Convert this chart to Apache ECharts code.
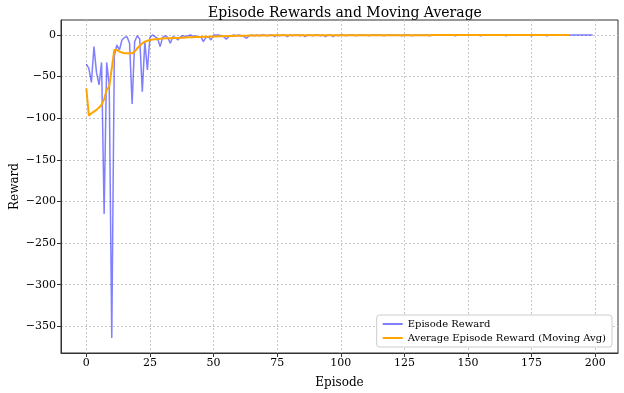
<!DOCTYPE html>
<html>
<head>
<meta charset="utf-8">
<script src="https://cdn.jsdelivr.net/npm/echarts@6/dist/echarts.min.js"></script>
<style>
html, body { margin: 0; padding: 0; background: #fff; }
#chart { width: 624px; height: 393px; }
</style>
</head>
<body>
<div id="chart"></div>
<script>
// episode rewards, one value per episode (0..199)
var episodeReward = [
  -35, -40, -57, -14, -45, -60, -33, -215, -33, -60,
  -364, -25, -12, -18, -6, -3, -2, -10, -83, -8,
  -1, -5, -68, -8, -42, -3, 0, -2, -4, -14,
  -3, -1, -3, -10, -2, -3, -6, -2, -1, -2,
  -1, 0, -2, -1, -3, -2, -8, -3, -2, -6,
  0, 0, 0, -1, -2, -5, -2, -1, 0, -1,
  0, -1, -2, -4, -1, 0, -1, 0, -1, 0,
  0, -1, 0, 0, -2, 0, -1, 0, 0, -2,
  0, -1, 0, 0, -1, 0, -2, 0, 0, -1,
  0, 0, -1, 0, -2, 0, 0, -2, 0, -1,
  0, 0, -1, 0, 0, 0, -1, 0, 0, 0,
  0, -1, 0, 0, 0, 0, 0, -1, 0, 0,
  0, 0, 0, 0, -1, 0, 0, 0, -1, 0,
  0, 0, 0, 0, 0, -1, 0, 0, 0, 0,
  0, 0, 0, 0, 0, -1, 0, 0, 0, 0,
  0, 0, 0, 0, 0, -1, 0, 0, 0, 0,
  0, 0, 0, 0, 0, -1, 0, 0, 0, 0,
  0, 0, 0, 0, 0, -1, 0, 0, 0, 0,
  0, -1, 0, 0, 0, 0, 0, 0, 0, 0,
  0, 0, 0, 0, 0, 0, 0, 0, 0, 0
];
// moving average, episodes 0..190
var movingAvg = [
  -64, -97, -94, -92, -90, -87, -84, -77, -66, -62,
  -40, -18, -18, -20, -21, -22, -22, -22, -22, -20,
  -16, -13, -10, -8, -7, -6, -5.5, -5, -5, -4.5,
  -4.2, -4, -4, -3.8, -3.6, -3.5, -3.5, -3.4, -3.2, -3,
  -2.8, -2.7, -2.6, -2.5, -2.4, -2.3, -2.2, -2.1, -2, -1.9,
  -1.8, -1.7, -1.6, -1.5, -1.4, -1.3, -1.2, -1.1, -1.1, -1,
  -1, -0.9, -0.9, -0.8, -0.7, -0.7, -0.6, -0.6, -0.6, -0.5,
  -0.5, -0.5, -0.5, -0.4, -0.4, -0.4, -0.4, -0.4, -0.4, -0.3,
  -0.3, -0.3, -0.3, -0.3, -0.3, -0.3, -0.3, -0.3, -0.3, -0.3,
  -0.3, -0.3, -0.3, -0.3, -0.3, -0.2, -0.2, -0.2, -0.2, -0.2,
  -0.2, -0.2, -0.2, -0.2, -0.2, -0.2, -0.2, -0.2, -0.2, -0.2,
  -0.2, -0.2, -0.2, -0.2, -0.2, -0.2, -0.2, -0.2, -0.2, -0.2,
  -0.2, -0.2, -0.2, -0.2, -0.2, -0.2, -0.2, -0.2, -0.2, -0.2,
  -0.2, -0.2, -0.2, -0.2, -0.2, -0.2, -0.1, -0.1, -0.1, -0.1,
  -0.1, -0.1, -0.1, -0.1, -0.1, -0.1, -0.1, -0.1, -0.1, -0.1,
  -0.1, -0.1, -0.1, -0.1, -0.1, -0.1, -0.1, -0.1, -0.1, -0.1,
  -0.1, -0.1, -0.1, -0.1, -0.1, -0.1, -0.1, -0.1, -0.1, -0.1,
  -0.1, -0.1, -0.1, -0.1, -0.1, -0.1, -0.1, -0.1, -0.1, -0.1,
  -0.1, -0.1, -0.1, -0.1, -0.1, -0.1, -0.1, -0.1, -0.1, -0.1,
  -0.1
];
var xTicks = [0, 25, 50, 75, 100, 125, 150, 175, 200];
var yTicks = [0, -50, -100, -150, -200, -250, -300, -350];

var font = 'DejaVu Serif';
var rewardPts = episodeReward.map(function (v, i) { return [i, v]; });
var avgPts = movingAvg.map(function (v, i) { return [i, v]; });

function fmt(v) {
  return String(Math.round(v)).replace('-', '\u2212');
}

var chart = echarts.init(document.getElementById('chart'));
var option = {
  animation: false,
  title: {
    text: 'Episode Rewards and Moving Average',
    left: 340, top: 1, textAlign: 'center',
    textStyle: { fontFamily: font, fontSize: 14, fontWeight: 'normal', color: '#000' }
  },
  grid: {
    left: 61, right: 6, top: 20, bottom: 40, containLabel: false, outerBoundsMode: 'none',
    show: true, borderColor: '#333', borderWidth: 1
  },
  legend: {
    orient: 'vertical', right: 12, bottom: 46,
    backgroundColor: '#fff', borderColor: '#ccc', borderWidth: 1, borderRadius: 3,
    padding: [4, 6], itemGap: 4, itemWidth: 20, itemHeight: 2, icon: 'rect',
    textStyle: { fontFamily: font, fontSize: 10, color: '#000' },
    data: ['Episode Reward', 'Average Episode Reward (Moving Avg)']
  },
  xAxis: {
    type: 'value', min: -9.95, max: 208.95,
    name: 'Episode', nameLocation: 'middle', nameGap: 24, nameMoveOverlap: false,
    nameTextStyle: { fontFamily: font, fontSize: 12, color: '#000' },
    axisLine: { onZero: false, lineStyle: { color: '#333' } },
    axisTick: { show: true, length: 4, customValues: xTicks, lineStyle: { color: '#333' } },
    axisLabel: { fontFamily: font, fontSize: 11, color: '#000', margin: 5, customValues: xTicks, formatter: fmt },
    splitLine: { show: true, lineStyle: { color: '#c8c8c8', type: [2, 2], width: 1 } }
  },
  yAxis: {
    type: 'value', min: -382, max: 18,
    name: 'Reward', nameLocation: 'middle', nameGap: 40, nameRotate: 90, nameMoveOverlap: false,
    nameTextStyle: { fontFamily: font, fontSize: 12, color: '#000' },
    axisLine: { show: true, onZero: false, lineStyle: { color: '#333' } },
    axisTick: { show: true, length: 4, customValues: yTicks, lineStyle: { color: '#333' } },
    axisLabel: { fontFamily: font, fontSize: 11, color: '#000', margin: 5, customValues: yTicks, formatter: fmt },
    splitLine: { show: true, lineStyle: { color: '#c8c8c8', type: [2, 2], width: 1 } }
  },
  series: [
    {
      name: 'Episode Reward', type: 'line', data: rewardPts, showSymbol: false,
      lineStyle: { color: 'rgba(0,0,255,0.5)', width: 1.5 },
      itemStyle: { color: 'rgba(0,0,255,0.5)' }
    },
    {
      name: 'Average Episode Reward (Moving Avg)', type: 'line', data: avgPts, showSymbol: false,
      lineStyle: { color: '#FFA500', width: 2 },
      itemStyle: { color: '#FFA500' }
    }
  ]
};
chart.setOption(option);
</script>
</body>
</html>
